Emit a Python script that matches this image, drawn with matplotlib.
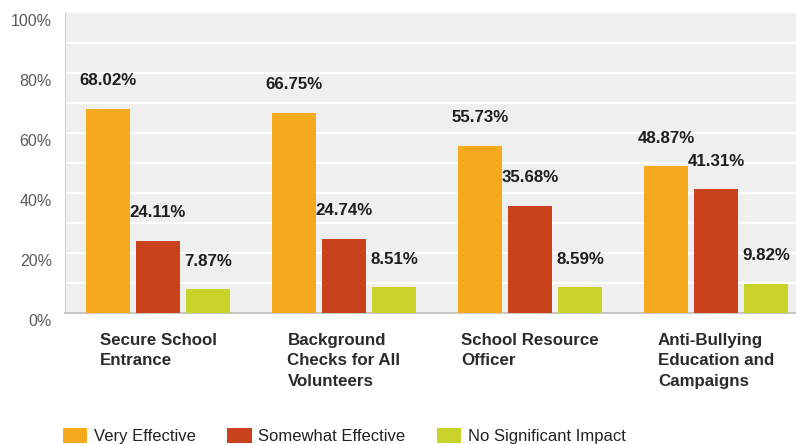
import numpy as np
import matplotlib.pyplot as plt
from matplotlib.transforms import ScaledTranslation
from matplotlib.patches import Patch

# Survey results: perceived effectiveness of school safety measures
categories = ['Secure School\nEntrance',
              'Background\nChecks for All\nVolunteers',
              'School Resource\nOfficer',
              'Anti-Bullying\nEducation and\nCampaigns']
very_effective = [68.02, 66.75, 55.73, 48.87]
somewhat_effective = [24.11, 24.74, 35.68, 41.31]
no_impact = [7.87, 8.51, 8.59, 9.82]
series_names = ['Very Effective', 'Somewhat Effective', 'No Significant Impact']
colors = ['#f6a91c', '#c9421b', '#c9d32a']
yticks = [0, 20, 40, 60, 80, 100]

plt.rcParams['font.family'] = ['Liberation Sans', 'DejaVu Sans']

fig = plt.figure(figsize=(7.96, 4.44), dpi=100)
ax = fig.add_axes([65/796, 1 - 313/444, 1 - 65/796, 300/444])
ax.set_facecolor('#efefef')

x = np.arange(len(categories))
width = 0.237
step = 0.269
series = [very_effective, somewhat_effective, no_impact]

for i, (vals, col) in enumerate(zip(series, colors)):
    bars = ax.bar(x + (i - 1) * step, vals, width, color=col, zorder=3)
    for b, v in zip(bars, vals):
        ax.annotate('%.2f%%' % v, (b.get_x() + b.get_width() / 2, v),
                    xytext=(0, 28), textcoords='offset pixels',
                    ha='center', va='center', fontsize=12.2,
                    fontweight='bold', color='#1e1e1e', zorder=4)

ax.set_xlim(-0.5, 3.43)
ax.set_ylim(0, 100)

# white gridlines every 10%
for g in range(10, 100, 10):
    ax.axhline(g, color='white', lw=1.6, zorder=1)

ax.set_yticks(yticks)
ax.set_yticklabels(['%d%%' % t for t in yticks], fontsize=11.5, color='#5a5a5a')
ax.tick_params(axis='y', length=0, pad=9.5)
for lbl in ax.get_yticklabels():
    lbl.set_transform(lbl.get_transform() + ScaledTranslation(0, -7/100, fig.dpi_scale_trans))
ax.set_xticks([])

for side in ['top', 'right']:
    ax.spines[side].set_visible(False)
ax.spines['left'].set_color('#d0d0d0')
ax.spines['bottom'].set_color('#bdbdbd')
ax.spines['bottom'].set_linewidth(1.2)

# category labels under each group, block centred, lines left aligned
for xi, cat in zip(x, categories):
    ax.annotate(cat, (xi, 0), xycoords=ax.get_xaxis_transform(),
                xytext=(0, -20), textcoords='offset pixels',
                ha='center', va='top', multialignment='left',
                fontsize=12.2, fontweight='bold', color='#2b2b2b',
                linespacing=1.45)

handles = [Patch(facecolor=c) for c in colors]
fig.legend(handles, series_names, loc='center left',
           bbox_to_anchor=(63/796, 1 - 436/444), ncol=3, frameon=False,
           fontsize=12, borderpad=0, borderaxespad=0,
           handlelength=1.45, handleheight=1.0, handletextpad=0.4,
           columnspacing=1.9, labelcolor='#222222')

fig.savefig('out.png', dpi=100)
